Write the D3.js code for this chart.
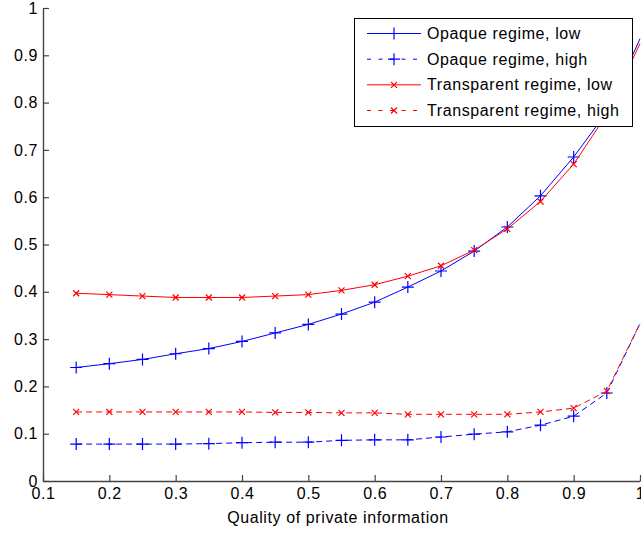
<!DOCTYPE html>
<html>
<head>
<meta charset="utf-8">
<script src="https://cdn.jsdelivr.net/npm/d3@7"></script>
<style>
  body { margin: 0; background: #fff; }
  svg { display: block; font-family: "Liberation Sans", Arial, sans-serif; }
</style>
</head>
<body>
<svg id="chart" width="641" height="535"></svg>
<script>
// data
const quality = [0.15, 0.2, 0.25, 0.3, 0.35, 0.4, 0.45, 0.5, 0.55, 0.6, 0.65, 0.7, 0.75, 0.8, 0.85, 0.9, 0.95, 1.0];
const opaqueLow = [0.240, 0.248, 0.257, 0.269, 0.280, 0.295, 0.313, 0.331, 0.353, 0.378, 0.410, 0.444, 0.486, 0.537, 0.603, 0.685, 0.780, 0.935];
const opaqueHigh = [0.078, 0.078, 0.078, 0.078, 0.079, 0.081, 0.082, 0.082, 0.086, 0.087, 0.087, 0.093, 0.099, 0.104, 0.118, 0.137, 0.186, 0.333];
const transparentLow = [0.397, 0.394, 0.391, 0.388, 0.388, 0.388, 0.391, 0.394, 0.403, 0.415, 0.433, 0.455, 0.488, 0.533, 0.591, 0.670, 0.775, 0.925];
const transparentHigh = [0.146, 0.146, 0.146, 0.146, 0.146, 0.146, 0.145, 0.145, 0.144, 0.144, 0.141, 0.141, 0.141, 0.141, 0.146, 0.154, 0.190, 0.333];

const xTicks = [0.1, 0.2, 0.3, 0.4, 0.5, 0.6, 0.7, 0.8, 0.9, 1];
const yTicks = [0, 0.1, 0.2, 0.3, 0.4, 0.5, 0.6, 0.7, 0.8, 0.9, 1];
const xTitle = "Quality of private information";

const series = [
  { name: "Opaque regime, low", values: opaqueLow, color: "#0000ff", dash: null, marker: "plus" },
  { name: "Opaque regime, high", values: opaqueHigh, color: "#0000ff", dash: "6,4", marker: "plus" },
  { name: "Transparent regime, low", values: transparentLow, color: "#ff0000", dash: null, marker: "cross" },
  { name: "Transparent regime, high", values: transparentHigh, color: "#ff0000", dash: "6,4", marker: "cross" }
];

const fontSize = "16px";
const letterSp = "0.6px";

const svg = d3.select("#chart");

const x = d3.scaleLinear().domain([0.1, 1]).range([43, 640]);
const y = d3.scaleLinear().domain([0, 1]).range([481, 8]);

const markerPath = {
  plus: "M-6,0H6M0,-6V6",
  cross: "M-3,-3L3,3M-3,3L3,-3"
};

// axes
const gx = svg.append("g")
  .attr("transform", `translate(0,${y(0)})`)
  .call(d3.axisBottom(x).tickValues(xTicks).tickFormat(d3.format("~g"))
    .tickSizeInner(-6).tickSizeOuter(0).tickPadding(7));

const gy = svg.append("g")
  .attr("transform", `translate(${x(0.1)},0)`)
  .call(d3.axisLeft(y).tickValues(yTicks).tickFormat(d3.format("~g"))
    .tickSizeInner(-6).tickSizeOuter(0).tickPadding(5));

[gx, gy].forEach(g => {
  g.select(".domain").attr("stroke", "#444").attr("stroke-width", 1.4);
  g.selectAll(".tick line").attr("stroke", "#444").attr("stroke-width", 1.2);
  g.selectAll(".tick text")
    .attr("fill", "#000")
    .style("font-size", fontSize)
    .style("letter-spacing", letterSp);
});

svg.append("text")
  .attr("x", 338)
  .attr("y", 523)
  .attr("text-anchor", "middle")
  .attr("fill", "#000")
  .style("font-size", fontSize)
  .style("letter-spacing", letterSp)
  .text(xTitle);

// lines + markers (the marker at the right edge is cut off in the original)
const line = d3.line()
  .x((d, i) => x(quality[i]))
  .y(d => y(d));

series.forEach(s => {
  const g = svg.append("g");
  g.append("path")
    .datum(s.values)
    .attr("d", line)
    .attr("fill", "none")
    .attr("stroke", s.color)
    .attr("stroke-width", 1)
    .attr("stroke-dasharray", s.dash);

  const pts = s.values.map((v, i) => [quality[i], v]).filter(p => p[0] < 1);
  g.selectAll("path.mk")
    .data(pts)
    .join("path")
    .attr("class", "mk")
    .attr("transform", d => `translate(${x(d[0])},${y(d[1])})`)
    .attr("d", markerPath[s.marker])
    .attr("fill", "none")
    .attr("stroke", s.color)
    .attr("stroke-width", 1.2);
});

// legend
const legend = svg.append("g");
legend.append("rect")
  .attr("x", 354.5).attr("y", 18.5)
  .attr("width", 278).attr("height", 108)
  .attr("fill", "#fff")
  .attr("stroke", "#000")
  .attr("stroke-width", 1);

const rowY = d3.scalePoint().domain(series.map(s => s.name)).range([33.5, 110.5]);

series.forEach(s => {
  const ly = rowY(s.name);
  legend.append("line")
    .attr("x1", 367).attr("x2", 421)
    .attr("y1", ly).attr("y2", ly)
    .attr("stroke", s.color)
    .attr("stroke-width", 1)
    .attr("stroke-dasharray", s.dash ? "4,7.5" : null);
  legend.append("path")
    .attr("transform", `translate(394,${ly})`)
    .attr("d", markerPath[s.marker])
    .attr("fill", "none")
    .attr("stroke", s.color)
    .attr("stroke-width", 1.2);
  legend.append("text")
    .attr("x", 427)
    .attr("y", ly)
    .attr("dy", "0.35em")
    .attr("fill", "#000")
    .style("font-size", fontSize)
    .style("letter-spacing", letterSp)
    .text(s.name);
});
</script>
</body>
</html>
